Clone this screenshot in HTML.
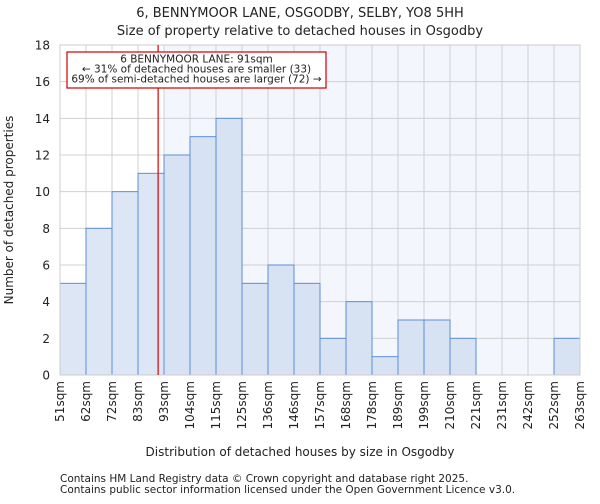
<!DOCTYPE html>
<html><head><meta charset="utf-8"><style>
body{margin:0;background:#fff;font-family:"DejaVu Sans","Liberation Sans",sans-serif}
svg text{font-family:"DejaVu Sans","Liberation Sans",sans-serif;fill:#222}
</style></head><body>
<svg id="c" width="600" height="500" xmlns="http://www.w3.org/2000/svg">
<text x="300" y="17" text-anchor="middle" font-size="13">6, BENNYMOOR LANE, OSGODBY, SELBY, YO8 5HH</text>
<text x="300" y="35" text-anchor="middle" font-size="13">Size of property relative to detached houses in Osgodby</text>
<g id="plot"></g>
<text x="300" y="456" text-anchor="middle" font-size="12">Distribution of detached houses by size in Osgodby</text>
<text transform="translate(13,210) rotate(-90)" text-anchor="middle" font-size="12">Number of detached properties</text>
<text x="60" y="482" font-size="10.5" fill="#444">Contains HM Land Registry data © Crown copyright and database right 2025.</text>
<text x="60" y="493" font-size="10.5" fill="#444">Contains public sector information licensed under the Open Government Licence v3.0.</text>
</svg>
<script>
const binLabels=["51sqm","62sqm","72sqm","83sqm","93sqm","104sqm","115sqm","125sqm","136sqm","146sqm","157sqm","168sqm","178sqm","189sqm","199sqm","210sqm","221sqm","231sqm","242sqm","252sqm","263sqm"];
const counts=[5,8,10,11,12,13,14,5,6,5,2,4,1,3,3,2,0,0,0,2];
const yTicks=[0,2,4,6,8,10,12,14,16,18];
const subjectSize=91;
const sizeMin=51, sizeMax=263;
const NS="http://www.w3.org/2000/svg";
const X0=60,X1=580,Y0=375,Y1=45;
const bw=(X1-X0)/counts.length;
const xb=i=>X0+i*bw;
const xs=v=>X0+(v-sizeMin)/(sizeMax-sizeMin)*(X1-X0);
const y=v=>Y0-v/18*(Y0-Y1);
const g=document.getElementById('plot');
function mk(t,a){const e=document.createElementNS(NS,t);for(const k in a)e.setAttribute(k,a[k]);g.appendChild(e);return e;}
const si=Math.ceil((subjectSize-sizeMin)/(sizeMax-sizeMin)*counts.length);
let sh=mk('rect',{x:xb(si),y:Y1,width:X1-xb(si),height:Y0-Y1,fill:'#f3f6fd'});


for(let i=0;i<=counts.length;i++){let l=mk('line',{x1:xb(i),x2:xb(i),y1:Y1,y2:Y0,stroke:'#d0d0d0','stroke-width':1});

}
yTicks.forEach(t=>{let l=mk('line',{x1:X0,x2:X1,y1:y(t),y2:y(t),stroke:'#d0d0d0','stroke-width':1});


let tx=mk('text',{x:X0-10,y:y(t)+4.5,'text-anchor':'end','font-size':12});tx.textContent=t;

});
counts.forEach((c,i)=>{if(c<=0)return;let r=mk('rect',{x:xb(i),y:y(c),width:bw,height:Y0-y(c),fill:i<si?'#dde6f4':'#d7e2f3',stroke:'#5b8fd6','stroke-width':1});

});
binLabels.forEach((b,i)=>{let t=mk('text',{transform:`translate(${xb(i)+4},381) rotate(-90)`,'text-anchor':'end','font-size':12});t.textContent=b;

});
let ax=mk('rect',{x:X0,y:Y1,width:X1-X0,height:Y0-Y1,fill:'none',stroke:'#ccc'});


let rl=mk('line',{x1:xs(subjectSize),x2:xs(subjectSize),y1:Y1,y2:Y0,stroke:'#d00','stroke-width':1.2});


let bx=mk('rect',{x:67,y:52,width:259,height:36,fill:'#fff',stroke:'#c00','stroke-width':1.2});


["6 BENNYMOOR LANE: 91sqm","← 31% of detached houses are smaller (33)","69% of semi-detached houses are larger (72) →"].forEach((s,i)=>{
let t=mk('text',{x:196.5,y:62.5+i*10,'text-anchor':'middle','font-size':10.5});t.textContent=s;

});
</script>
</body></html>
